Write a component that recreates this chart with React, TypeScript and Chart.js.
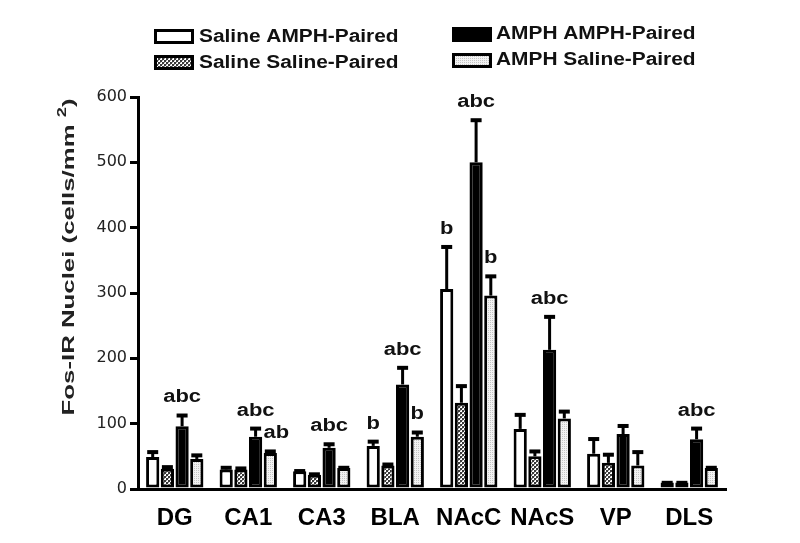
import React, { useEffect, useRef } from "react";
import { Chart, registerables } from "chart.js";

Chart.register(...registerables);

const categories = ["DG", "CA1", "CA3", "BLA", "NAcC", "NAcS", "VP", "DLS"];
const seriesNames = ["Saline AMPH-Paired", "Saline Saline-Paired", "AMPH AMPH-Paired", "AMPH Saline-Paired"];

const salineAmphPaired = [49, 30, 27, 66, 306, 92, 54, 10];
const salineAmphPairedErr = [9, 4, 2, 8, 66, 23, 24, 1];
const salineSalinePaired = [31, 30, 22, 36, 132, 50, 40, 10];
const salineSalinePairedErr = [4, 3, 2, 3, 27, 9, 14, 1];
const amphAmphPaired = [96, 80, 63, 160, 500, 213, 84, 76];
const amphAmphPairedErr = [18, 14, 7, 27, 66, 52, 14, 18];
const amphSalinePaired = [46, 55, 32, 80, 296, 108, 36, 32];
const amphSalinePairedErr = [7, 4, 2, 8, 31, 12, 22, 2];

const salineAmphPairedSig = ["", "", "", "b", "b", "", "", ""];
const salineSalinePairedSig = ["", "", "", "", "", "", "", ""];
const amphAmphPairedSig = ["abc", "abc", "abc", "abc", "abc", "abc", "", "abc"];
const amphSalinePairedSig = ["", "ab", "", "b", "b", "", "", ""];

const yTicks = [0, 100, 200, 300, 400, 500, 600];
const yTitle = "Fos-IR Nuclei (cells/mm ";

const values = [salineAmphPaired, salineSalinePaired, amphAmphPaired, amphSalinePaired];
const errors = [salineAmphPairedErr, salineSalinePairedErr, amphAmphPairedErr, amphSalinePairedErr];
const sigs = [salineAmphPairedSig, salineSalinePairedSig, amphAmphPairedSig, amphSalinePairedSig];

function makePattern(kind: string): CanvasPattern | string {
  const c = document.createElement("canvas");
  c.width = 4;
  c.height = 4;
  const g = c.getContext("2d");
  if (!g) return "#888";
  g.fillStyle = "#ffffff";
  g.fillRect(0, 0, 4, 4);
  if (kind === "checker") {
    g.fillStyle = "#3a3a3a";
    g.fillRect(0, 0, 2, 2);
    g.fillRect(2, 2, 2, 2);
    g.fillStyle = "#9a9a9a";
    g.fillRect(2, 0, 1, 1);
    g.fillRect(0, 2, 1, 1);
  } else {
    g.fillStyle = "#f2f2f2";
    g.fillRect(0, 0, 4, 4);
    g.fillStyle = "#c4c4c4";
    g.fillRect(0, 0, 1, 1);
    g.fillRect(2, 0, 1, 1);
    g.fillRect(0, 2, 1, 1);
    g.fillRect(2, 2, 1, 1);
  }
  const p = g.createPattern(c, "repeat");
  return p || "#888";
}

function stretchText(ctx: CanvasRenderingContext2D, text: string, x: number, y: number, sx: number, align: CanvasTextAlign) {
  ctx.save();
  ctx.translate(x, y);
  ctx.scale(sx, 1);
  ctx.textAlign = align;
  ctx.fillText(text, 0, 0);
  ctx.restore();
}

export default function App() {
  const ref = useRef<HTMLCanvasElement | null>(null);

  useEffect(() => {
    const canvas = ref.current;
    if (!canvas) return;
    const checker = makePattern("checker");
    const dotted = makePattern("dotted");
    const fills: any[] = ["#ffffff", checker, "#000000", dotted];

    const overlay = {
      id: "overlay",
      afterDatasetsDraw(chart: any) {
        const ctx: CanvasRenderingContext2D = chart.ctx;
        const y = chart.scales.y;
        ctx.save();
        chart.data.datasets.forEach((_ds: any, i: number) => {
          const meta = chart.getDatasetMeta(i);
          meta.data.forEach((bar: any, j: number) => {
            const topV = values[i][j] + errors[i][j];
            const yTop = y.getPixelForValue(topV);
            const yBar = y.getPixelForValue(values[i][j]);
            ctx.fillStyle = "#000";
            if (yBar - yTop > 1) {
              ctx.fillRect(bar.x - 1.5, yTop, 3, yBar - yTop);
            }
            ctx.fillRect(bar.x - 5.5, yTop - 1, 11, 4);
            const s = sigs[i][j];
            if (s) {
              ctx.fillStyle = "#111";
              ctx.font = "bold 18px 'Liberation Sans', Arial, sans-serif";
              ctx.textBaseline = "middle";
              stretchText(ctx, s, bar.x + (s === "ab" ? 6 : 0), yTop - 17, 1.22, "center");
            }
          });
        });
        ctx.restore();
      },
      afterDraw(chart: any) {
        const ctx: CanvasRenderingContext2D = chart.ctx;
        ctx.save();
        const boxes = [
          { x: 154, y: 29, tx: 199, ty: 37 },
          { x: 154, y: 55, tx: 199, ty: 63 },
          { x: 452, y: 27, tx: 496, ty: 34 },
          { x: 452, y: 53, tx: 496, ty: 60 },
        ];
        boxes.forEach((b, i) => {
          ctx.fillStyle = "#000";
          ctx.fillRect(b.x, b.y, 40, 15);
          ctx.fillStyle = fills[i];
          if (i !== 2) ctx.fillRect(b.x + 3, b.y + 3, 34, 9);
          ctx.fillStyle = "#111";
          ctx.font = "bold 18px 'Liberation Sans', Arial, sans-serif";
          ctx.textBaseline = "middle";
          stretchText(ctx, seriesNames[i], b.tx, b.ty, 1.16, "left");
        });
        ctx.translate(69, 257);
        ctx.rotate(-Math.PI / 2);
        ctx.fillStyle = "#222";
        ctx.font = "bold 17px 'Liberation Sans', Arial, sans-serif";
        const w1 = ctx.measureText(yTitle).width;
        ctx.font = "bold 12px 'Liberation Sans', Arial, sans-serif";
        const w2 = ctx.measureText("2").width;
        ctx.font = "bold 17px 'Liberation Sans', Arial, sans-serif";
        const w3 = ctx.measureText(")").width;
        const total = w1 + w2 + w3;
        const sx = 317 / total;
        ctx.scale(sx, 1);
        ctx.textBaseline = "middle";
        ctx.textAlign = "left";
        const x0 = -total / 2;
        ctx.fillText(yTitle, x0, 0);
        ctx.font = "bold 12px 'Liberation Sans', Arial, sans-serif";
        ctx.fillText("2", x0 + w1, -6);
        ctx.font = "bold 17px 'Liberation Sans', Arial, sans-serif";
        ctx.fillText(")", x0 + w1 + w2, 0);
        ctx.restore();
      },
    };

    const chart = new Chart(canvas, {
      type: "bar",
      data: {
        labels: categories,
        datasets: values.map((v, i) => ({
          label: seriesNames[i],
          data: v,
          backgroundColor: fills[i],
          borderColor: "#000",
          borderWidth: 3,
          borderSkipped: false,
          categoryPercentage: 0.8,
          barPercentage: 0.9,
        })),
      },
      options: {
        responsive: false,
        animation: false,
        layout: { padding: { left: 0, top: 97, right: 74, bottom: 0 } },
        plugins: { legend: { display: false }, tooltip: { enabled: false }, title: { display: false } },
        scales: {
          x: {
            grid: { display: false },
            border: { display: true, color: "#000", width: 3 },
            ticks: {
              color: "#000",
              padding: 7,
              font: { family: "'Liberation Sans', Arial, sans-serif", size: 24, weight: "bold" },
            },
            afterFit(scale: any) {
              scale.height = 54;
            },
          },
          y: {
            min: 0,
            max: 600,
            afterBuildTicks(scale: any) {
              scale.ticks = yTicks.map((v) => ({ value: v }));
            },
            grid: { drawOnChartArea: false, drawTicks: true, tickLength: 8, color: "#000", lineWidth: 3 },
            border: { display: true, color: "#000", width: 3 },
            ticks: {
              color: "#222",
              padding: 3,
              font: { family: "'DejaVu Sans', Verdana, sans-serif", size: 16 },
            },
            afterFit(scale: any) {
              scale.width = 138;
            },
          },
        },
      },
      plugins: [overlay],
    } as any);
    return () => chart.destroy();
  }, []);

  return (
    <div style={{ position: "fixed", left: 0, top: 0, width: 800, height: 543, background: "#fff" }}>
      <canvas ref={ref} width={800} height={543} style={{ display: "block" }} />
    </div>
  );
}
